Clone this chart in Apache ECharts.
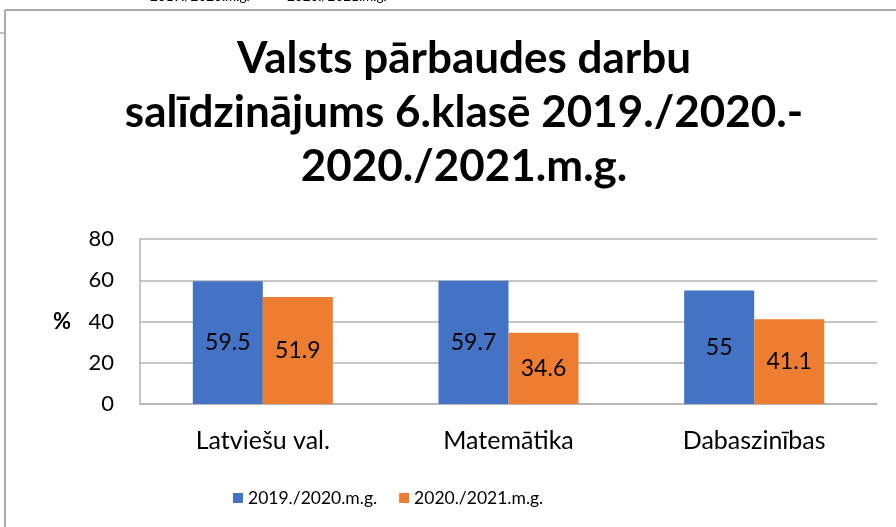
<!DOCTYPE html>
<html>
<head>
<meta charset="utf-8">
<script src="https://cdn.jsdelivr.net/npm/echarts@6/dist/echarts.min.js"></script>
<style>
  html, body { margin: 0; padding: 0; background: #fff; }
  #chart { width: 896px; height: 527px; }
</style>
</head>
<body>
<div id="chart"></div>
<script>
var categories = ['Latviešu val.', 'Matemātika', 'Dabaszinības'];
var seriesNames = ['2019./2020.m.g.', '2020./2021.m.g.'];
var values2020 = [59.5, 59.7, 55];
var values2021 = [51.9, 34.6, 41.1];
var yTicks = { min: 0, max: 80, interval: 20 };

var font = 'Lato, "Open Sans", sans-serif';
var gridColor = '#b3b3b3';

var chart = echarts.init(document.getElementById('chart'));
var option = {
  textStyle: { fontFamily: font },
  animation: false,
  title: {
    text: 'Valsts pārbaudes darbu\nsalīdzinājums 6.klasē 2019./2020.-\n2020./2021.m.g.',
    left: 459,
    top: 27,
    textAlign: 'center',
    textStyle: { fontFamily: font, fontSize: 44, fontWeight: 'bold', color: '#000', lineHeight: 54 }
  },
  legend: {
    left: 228,
    top: 484,
    icon: 'rect',
    itemWidth: 10,
    itemHeight: 10,
    itemGap: 22,
    textStyle: { fontFamily: font, fontSize: 17.5, color: '#000' },
    data: seriesNames
  },
  grid: { left: 140, right: 19, top: 239, bottom: 123 },
  xAxis: {
    type: 'category',
    data: categories,
    axisTick: { show: false },
    axisLine: { lineStyle: { color: gridColor, width: 1.5 } },
    axisLabel: { color: '#000', fontSize: 25, margin: 24, fontFamily: font }
  },
  yAxis: {
    type: 'value',
    min: yTicks.min,
    max: yTicks.max,
    interval: yTicks.interval,
    name: '%',
    nameLocation: 'middle',
    nameRotate: 0,
    nameGap: 69,
    nameTextStyle: { fontFamily: font, fontSize: 22, fontWeight: 'bold', color: '#000', padding: [4, 0, 0, 0] },
    axisLine: { show: true, lineStyle: { color: gridColor, width: 1.5 } },
    axisTick: { show: false },
    axisLabel: { color: '#000', fontSize: 22, margin: 26, fontFamily: font },
    splitLine: { lineStyle: { color: gridColor, width: 1.5 } }
  },
  series: [
    {
      name: seriesNames[0],
      type: 'bar',
      data: values2020,
      barGap: '0%',
      barCategoryGap: '43%',
      itemStyle: { color: '#4472C4' },
      label: { show: true, position: 'inside', fontSize: 23, color: '#000', fontFamily: font }
    },
    {
      name: seriesNames[1],
      type: 'bar',
      data: values2021,
      itemStyle: { color: '#ED7D31' },
      label: { show: true, position: 'inside', fontSize: 23, color: '#000', fontFamily: font }
    }
  ],
  graphic: [
    { type: 'line', shape: { x1: 5, y1: 10, x2: 896, y2: 10 }, style: { stroke: '#aaaaaa', lineWidth: 2 } },
    { type: 'line', shape: { x1: 5, y1: 10, x2: 5, y2: 527 }, style: { stroke: '#aaaaaa', lineWidth: 2 } },
    { type: 'line', shape: { x1: 0, y1: 33, x2: 5, y2: 33 }, style: { stroke: '#aaaaaa', lineWidth: 1.5 } },
    { type: 'text', left: 150, top: -10, style: { text: seriesNames[0], font: '13.5px ' + font, fill: '#000' } },
    { type: 'text', left: 287, top: -10, style: { text: seriesNames[1], font: '13.5px ' + font, fill: '#000' } }
  ]
};
chart.setOption(option);
</script>
</body>
</html>
